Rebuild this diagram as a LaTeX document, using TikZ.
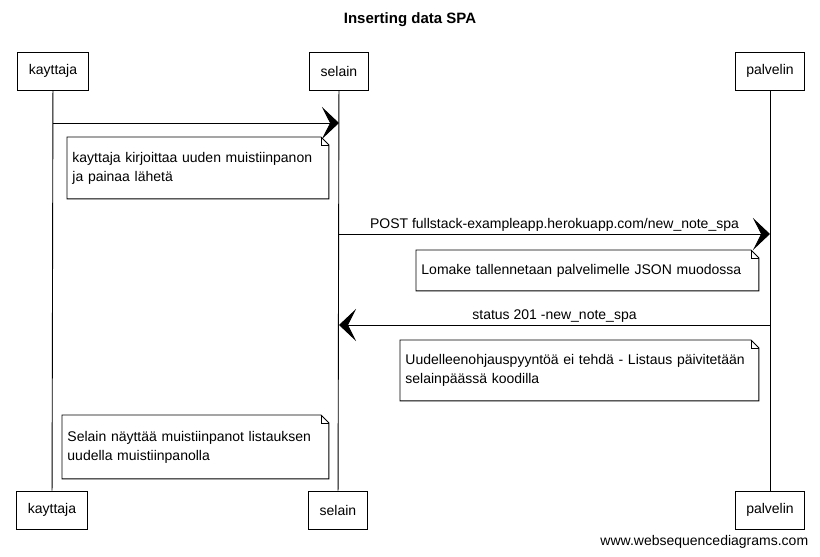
\documentclass[tikz,border=0pt]{standalone}
\usepackage{fontspec}
\setmainfont{Liberation Sans}
\usetikzlibrary{arrows.meta}

\begin{document}
\begin{tikzpicture}[x=1pt,y=-1pt,line width=0.9pt,font=\fontsize{14}{19}\selectfont,
    actor/.style={draw,minimum height=38pt,inner xsep=11pt},
    note/.style={anchor=north west,align=left,inner xsep=5pt},
    msg/.style={-{Stealth[length=17pt,width=32pt,inset=8pt]}}]
    \useasboundingbox (0,0) rectangle (820,557);
    \node[font=\fontsize{15}{17}\selectfont\bfseries] (title) at (410,20) {Inserting data SPA};
    % participants
    \node[actor] (kt) at (53,71) {kayttaja};
    \node[actor] (st) at (339,71) {selain};
    \node[actor] (pt) at (770,71) {palvelin};
    \node[actor] (kb) at (52,510) {kayttaja};
    \node[actor] (sb) at (338,510) {selain};
    \node[actor] (pb) at (770,510) {palvelin};
    \draw (kt) -- (kb);
    \draw (st) -- (sb);
    \draw (pt) -- (pb);
    % messages
    \coordinate (k1) at (53,123); \coordinate (s1) at (339,123);
    \coordinate (s2) at (339,234); \coordinate (p2) at (770,234);
    \coordinate (p3) at (770,325); \coordinate (s3) at (339,325);
    \draw[msg] (k1) -- (s1);
    \draw[msg] (s2) -- node[above,inner sep=2pt] {POST fullstack-exampleapp.herokuapp.com/new\_note\_spa} (p2);
    \draw[msg] (p3) -- node[above,inner sep=2pt] {status 201 -new\_note\_spa} (s3);
    % notes
    \node[note,text width=251pt,minimum height=61pt] (n1) at (67,137)
        {kayttaja kirjoittaa uuden muistiinpanon\\ja painaa lähetä};
    \node[note,text width=332pt,minimum height=40pt] (n2) at (416,250)
        {Lomake tallennetaan palvelimelle JSON muodossa};
    \node[note,text width=348pt,minimum height=60pt] (n3) at (400,340)
        {Uudelleenohjauspyyntöä ei tehdä - Listaus päivitetään\\selainpäässä koodilla};
    \node[note,text width=256pt,minimum height=63pt] (n4) at (62,415)
        {Selain näyttää muistiinpanot listauksen\\uudella muistiinpanolla};
    \foreach \n in {n1,n2,n3,n4} {
        \draw (\n.north west) -- ([xshift=-8pt]\n.north east) -- ([yshift=-8pt]\n.north east)
            -- (\n.south east) -- (\n.south west) -- cycle;
        \draw[line width=0.5pt] ([xshift=-8pt]\n.north east) |- ([yshift=-8pt]\n.north east);
    }
    \node[anchor=east] (site) at (812,542) {www.websequencediagrams.com};
\end{tikzpicture}
\end{document}
